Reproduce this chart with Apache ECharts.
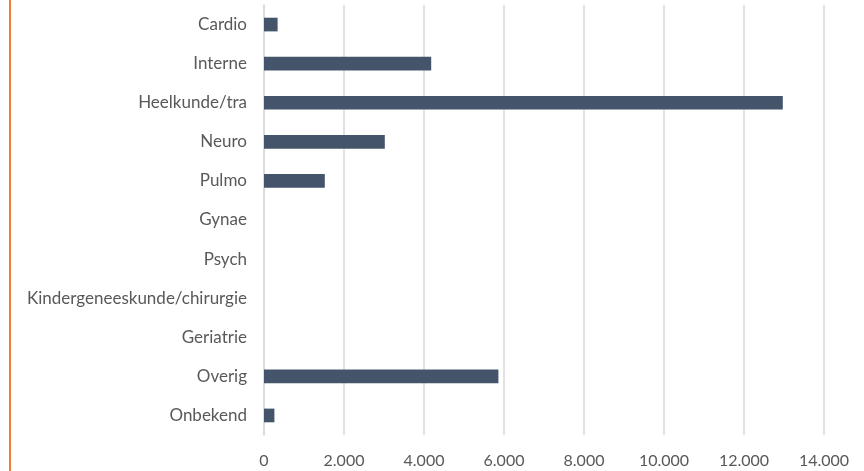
<!DOCTYPE html>
<html>
<head>
<meta charset="utf-8">
<script src="https://cdn.jsdelivr.net/npm/echarts@6/dist/echarts.min.js"></script>
<style>html,body{margin:0;padding:0;background:#fff;}#c{width:864px;height:471px;}</style>
</head>
<body>
<div id="c"></div>
<script>
const categories = ['Cardio','Interne','Heelkunde/tra','Neuro','Pulmo','Gynae','Psych','Kindergeneeskunde/chirurgie','Geriatrie','Overig','Onbekend'];
const values = [340, 4180, 12970, 3020, 1520, 0, 0, 0, 0, 5860, 260];
const xMin = 0, xMax = 14000, xStep = 2000;

function fmt(v){ return String(v).replace(/\B(?=(\d{3})+(?!\d))/g, '.'); }

const chart = echarts.init(document.getElementById('c'));
chart.setOption({
  animation: false,
  backgroundColor: '#fff',
  textStyle: { fontFamily: 'Lato' },
  grid: { left: 264, right: 40, top: 5, bottom: 36, containLabel: false },
  graphic: [{ type: 'rect', left: 9, top: 0, shape: { width: 2, height: 471 }, style: { fill: '#ED7D31' } }],
  xAxis: {
    type: 'value', min: xMin, max: xMax, interval: xStep,
    axisLine: { show: false }, axisTick: { show: false },
    splitLine: { lineStyle: { color: '#d9d9d9', width: 1.5 } },
    axisLabel: { formatter: fmt, color: '#595959', fontSize: 16, margin: 18, fontFamily: 'Lato' }
  },
  yAxis: {
    type: 'category', data: categories, inverse: true,
    axisLine: { show: true, lineStyle: { color: '#d9d9d9', width: 1.5 } },
    axisTick: { show: false },
    axisLabel: { color: '#595959', fontSize: 17, margin: 17, fontFamily: 'Lato' }
  },
  series: [{
    type: 'bar', data: values, barCategoryGap: '65%',
    itemStyle: { color: '#44546A' }
  }]
});
</script>
</body>
</html>
